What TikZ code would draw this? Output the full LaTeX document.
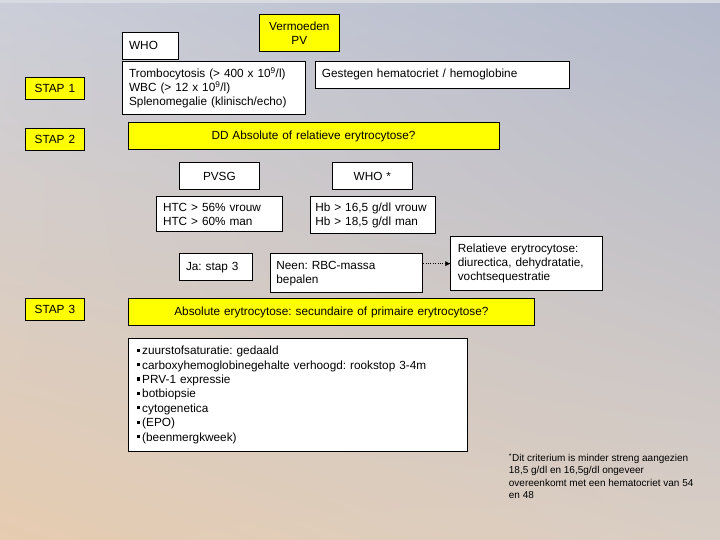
\documentclass[tikz,border=0pt]{standalone}
\usepackage{xcolor}
\usepackage{fontspec}
\setmainfont{Liberation Sans}
\usepackage{tikz}
\usetikzlibrary{arrows.meta,shadings}
\frenchspacing
\definecolor{pvInk}{HTML}{000000}
\definecolor{pvYellow}{HTML}{FFFF00}
\definecolor{pvPaper}{HTML}{FFFFFF}
\definecolor{bgTopLeft}{HTML}{CBCED9}
\definecolor{bgTopRight}{HTML}{B3B9CB}
\definecolor{bgLowLeft}{HTML}{E6CCB0}
\definecolor{bgLowRight}{HTML}{D9CEC5}
\definecolor{bgStrip}{HTML}{D8DAE2}
\newcommand{\blt}{\raisebox{0.45ex}{\rule{3.2pt}{3.2pt}}\hspace{2pt}}
\tikzset{
  % Yellow heading box (centred text)
  ybox/.style={rectangle,anchor=north west,
    inner xsep=4pt,inner ysep=3pt,
    align=center,draw=pvInk,fill=pvYellow,line width=0.8pt,
    font=\fontsize{11.8}{14.6}\selectfont,text=pvInk},
  % White text box (left aligned)
  tbox/.style={rectangle,anchor=north west,
    inner xsep=7pt,inner ysep=3pt,
    align=left,draw=pvInk,fill=pvPaper,line width=0.8pt,
    font=\fontsize{11.8}{14}\selectfont,text=pvInk},
  % White label box (centred text)
  cbox/.style={tbox,align=center},
  % Footnote text
  note/.style={anchor=north west,inner sep=0pt,align=left,
    font=\fontsize{10}{12.3}\selectfont,text=pvInk},
  % Arrows
  arrdot/.style={-{Latex[length=5pt,width=5pt]},dotted,thin,color=pvInk},
}
\begin{document}
\begin{tikzpicture}[x=1pt,y=-1pt]
  \useasboundingbox (0,0) rectangle (720,540);
  % Background
  \shade[upper left=bgTopLeft,upper right=bgTopRight,
    lower left=bgLowLeft,lower right=bgLowRight] (0,0) rectangle (720,540);
  \fill[bgStrip] (0,0) rectangle (720,3);

  % Step labels
  \node[ybox,text width=50.3,minimum height=21.7] (stap1) at (25.3,77.5) {STAP 1};
  \node[ybox,text width=50.3,minimum height=21.7] (stap2) at (25.3,128.4) {STAP 2};
  \node[ybox,text width=50.3,minimum height=22] (stap3) at (25.3,298.2) {STAP 3};

  % Stap 1
  \node[ybox,text width=72.8,minimum height=36.8] (vermoeden) at (258.5,14.5) {Vermoeden\\PV};
  \node[tbox,text width=42.4,minimum height=27.5] (who) at (121.7,31.7) {WHO};
  \node[tbox,text width=169.2,minimum height=53.7] (trombo) at (121.7,60.6)
    {Trombocytosis (> 400 x 10\textsuperscript{9}/l)\\
     WBC (> 12 x 10\textsuperscript{9}/l)\\
     Splenomegalie (klinisch/echo)};
  \node[tbox,text width=240.8,minimum height=27.6] (gestegen) at (314.5,60.6)
    {Gestegen hematocriet / hemoglobine};

  % Stap 2
  \node[ybox,text width=363,minimum height=27.2] (dd) at (127.6,122.2)
    {DD Absolute of relatieve erytrocytose?};
  \node[cbox,text width=66.8,minimum height=27.2] (pvsg) at (178.6,162.2) {PVSG};
  \node[cbox,text width=66.8,minimum height=27.2] (whostar) at (331.5,162.2) {WHO *};
  \node[tbox,text width=112.8,minimum height=35.1] (htc) at (155.6,196.3)
    {HTC > 56\% vrouw\\HTC > 60\% man};
  \node[tbox,inner xsep=5.5pt,text width=114.8,minimum height=36.5] (hb) at (309.5,196.3)
    {Hb > 16,5 g/dl vrouw\\Hb > 18,5 g/dl man};
  \node[tbox,text width=59,minimum height=26.9] (ja) at (178.6,253.4) {Ja: stap 3};
  \node[tbox,inner xsep=6.5pt,text width=139.9,minimum height=39] (neen) at (269.5,253.4)
    {Neen: RBC-massa\\bepalen};
  \node[tbox,text width=137.1,minimum height=54.1] (relatief) at (450.4,236.2)
    {Relatieve erytrocytose:\\diurectica, dehydratatie,\\vochtsequestratie};
  \draw[arrdot] (relatief.west -| neen.east) -- (relatief.west);

  % Stap 3
  \node[ybox,text width=398.8,minimum height=27.2] (absoluut) at (127.6,298.2)
    {Absolute erytrocytose: secundaire of primaire erytrocytose?};
  \node[tbox,inner xsep=9pt,text width=321.8,minimum height=113.3,
    font=\fontsize{11.8}{14.4}\selectfont] (onderzoek) at (127.6,337.8)
    {\blt zuurstofsaturatie: gedaald\\
     \blt carboxyhemoglobinegehalte verhoogd: rookstop 3-4m\\
     \blt PRV-1 expressie\\
     \blt botbiopsie\\
     \blt cytogenetica\\
     \blt (EPO)\\
     \blt (beenmergkweek)};

  % Footnote
  \node[note] (voetnoot) at (508.7,453)
    {\textsuperscript{*}Dit criterium is minder streng aangezien\\
     18,5 g/dl en 16,5g/dl ongeveer\\
     overeenkomt met een hematocriet van 54\\
     en 48};
\end{tikzpicture}
\end{document}
